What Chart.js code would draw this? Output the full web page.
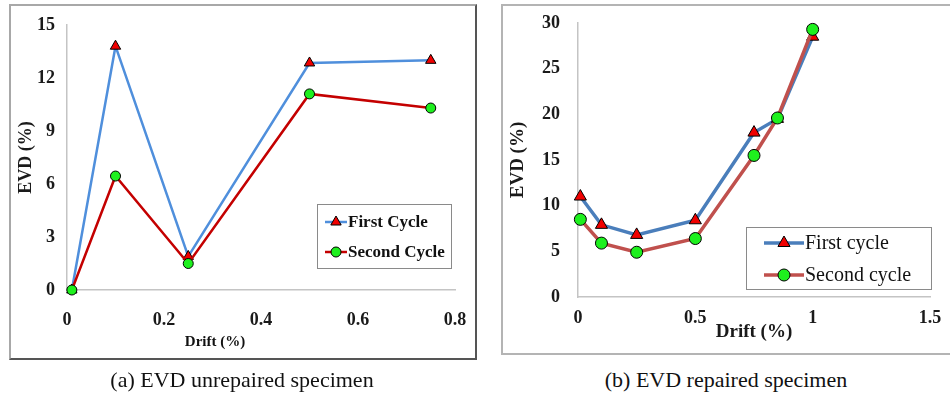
<!DOCTYPE html>
<html>
<head>
<meta charset="utf-8">
<script src="https://cdn.jsdelivr.net/npm/chart.js@4/dist/chart.umd.min.js"></script>
<style>
    body {
        margin: 0;
        width: 950px;
        height: 396px;
        background: #fff;
        position: relative;
        overflow: hidden;
        font-family: "Liberation Serif", "Times New Roman", serif;
        color: #111;
    }
    .panel { position: absolute; box-sizing: border-box; }
    #panelA {
        left: 9px; top: 4px; width: 468px; height: 356px;
        border: 2px solid #a8a8a8;
        border-right-color: #555;
        border-bottom-color: #555;
    }
    #panelB {
        left: 501px; top: 4px; width: 470px; height: 351px;
        border: 2px solid #b4b4b4;
    }
    canvas { position: absolute; }
    #chartA { left: 10px; top: 5px; }
    #chartB { left: 502px; top: 6px; }
    .label {
        position: absolute;
        white-space: nowrap;
        transform: translateX(-50%);
    }
    #driftA { left: 215px; top: 333px; font-weight: bold; font-size: 15px; }
    .caption { top: 367px; font-size: 22px; }
    #capA { left: 242px; }
    #capB { left: 726px; }
</style>
</head>
<body>
<div class="panel" id="panelA"></div>
<div class="panel" id="panelB"></div>
<canvas id="chartA" width="465" height="353"></canvas>
<canvas id="chartB" width="448" height="347"></canvas>
<div class="label" id="driftA">Drift (%)</div>
<div class="label caption" id="capA">(a) EVD unrepaired specimen</div>
<div class="label caption" id="capB">(b) EVD repaired specimen</div>

<script>
// (a) unrepaired specimen
const driftA = [0.01, 0.1, 0.25, 0.5, 0.75];
const firstA = [0, 13.8, 1.9, 12.85, 13.0];
const secondA = [0, 6.45, 1.5, 11.1, 10.3];
const xTicksA = [0, 0.2, 0.4, 0.6, 0.8];
const yTicksA = [0, 3, 6, 9, 12, 15];
const namesA = ['First Cycle', 'Second Cycle'];

// (b) repaired specimen
const driftB = [0.01, 0.1, 0.25, 0.5, 0.75, 0.85, 1];
const firstB = [11, 7.9, 6.8, 8.4, 18, 19.5, 28.5];
const secondB = [8.5, 5.9, 4.9, 6.4, 15.5, 19.6, 29.3];
const xTicksB = [0, 0.5, 1, 1.5];
const yTicksB = [0, 5, 10, 15, 20, 25, 30];
const namesB = ['First cycle', 'Second cycle'];

const serif = '"Liberation Serif", "Times New Roman", serif';

function points(xs, ys) {
    return xs.map((x, i) => ({ x: x, y: ys[i] }));
}

// legend drawn as a framed box inside the plot, like the Excel original
const boxLegend = {
    id: 'boxLegend',
    afterDraw(chart, args, opts) {
        const ctx = chart.ctx;
        ctx.save();
        ctx.strokeStyle = opts.borderColor;
        ctx.lineWidth = 1;
        ctx.strokeRect(opts.x + 0.5, opts.y + 0.5, opts.w, opts.h);
        ctx.font = opts.font;
        ctx.textBaseline = 'middle';
        chart.data.datasets.forEach((ds, i) => {
            const cy = opts.y + opts.rowTop + i * opts.rowGap;
            const x0 = opts.x + opts.lineX;
            ctx.strokeStyle = ds.borderColor;
            ctx.lineWidth = ds.borderWidth;
            ctx.beginPath();
            ctx.moveTo(x0, cy);
            ctx.lineTo(x0 + opts.lineLen, cy);
            ctx.stroke();
            ctx.fillStyle = ds.pointBackgroundColor;
            ctx.strokeStyle = ds.pointBorderColor;
            ctx.lineWidth = ds.pointBorderWidth;
            Chart.helpers.drawPoint(ctx, {
                pointStyle: ds.pointStyle, radius: ds.pointRadius,
                borderWidth: ds.pointBorderWidth, rotation: 0
            }, x0 + opts.lineLen / 2, cy);
            ctx.fillStyle = '#111';
            ctx.fillText(ds.label, x0 + opts.lineLen + 1, cy + 1);
        });
        ctx.restore();
    }
};

function fixTicks(list) {
    return scale => { scale.ticks = list.map(v => ({ value: v })); };
}

// fixed axis size, and no extra room asked for the end labels
function fixSize(prop, size) {
    return scale => {
        scale[prop] = size;
        scale.paddingTop = scale.paddingBottom = 0;
        scale.paddingLeft = scale.paddingRight = 0;
    };
}

function makeChart(id, cfg) {
    return new Chart(document.getElementById(id), {
        type: 'line',
        data: {
            datasets: [{
                label: cfg.names[0],
                data: points(cfg.xs, cfg.first),
                borderColor: cfg.blue,
                borderWidth: cfg.lineWidth,
                pointStyle: 'triangle',
                pointRadius: cfg.triRadius,
                pointBackgroundColor: '#f00000',
                pointBorderColor: '#000',
                pointBorderWidth: 1,
                tension: 0,
                clip: false,
                order: 2
            }, {
                label: cfg.names[1],
                data: points(cfg.xs, cfg.second),
                borderColor: cfg.red,
                borderWidth: cfg.lineWidth,
                pointStyle: 'circle',
                pointRadius: cfg.dotRadius,
                pointBackgroundColor: '#1ef01e',
                pointBorderColor: '#000',
                pointBorderWidth: 1,
                tension: 0,
                clip: false,
                order: 1
            }]
        },
        options: {
            responsive: false,
            animation: false,
            layout: { padding: cfg.padding },
            plugins: {
                legend: { display: false },
                tooltip: { enabled: false },
                boxLegend: cfg.legend
            },
            scales: {
                x: {
                    type: 'linear',
                    min: cfg.xTicks[0],
                    max: cfg.xTicks[cfg.xTicks.length - 1],
                    afterBuildTicks: fixTicks(cfg.xTicks),
                    afterFit: fixSize('height', cfg.xHeight),
                    grid: { display: false, drawTicks: false },
                    border: { display: true, color: '#c4c4c4', width: 1.5 },
                    ticks: {
                        padding: cfg.xPad,
                        color: '#1a1a1a',
                        maxRotation: 0,
                        callback: v => String(v),
                        font: { family: serif, size: cfg.tickSize, weight: 'bold' }
                    },
                    title: cfg.xTitle
                },
                y: {
                    min: cfg.yTicks[0],
                    max: cfg.yTicks[cfg.yTicks.length - 1],
                    afterBuildTicks: fixTicks(cfg.yTicks),
                    afterFit: fixSize('width', cfg.yWidth),
                    grid: { display: false, drawTicks: false },
                    border: { display: true, color: '#c4c4c4', width: 1.5 },
                    ticks: {
                        padding: cfg.yPad,
                        color: '#1a1a1a',
                        callback: v => String(v),
                        font: { family: serif, size: cfg.tickSize, weight: 'bold' }
                    },
                    title: cfg.yTitle
                }
            }
        },
        plugins: [boxLegend]
    });
}

makeChart('chartA', {
    xs: driftA, first: firstA, second: secondA, names: namesA,
    xTicks: xTicksA, yTicks: yTicksA,
    blue: '#4f8fdc', red: '#c40000', lineWidth: 2.5,
    triRadius: 6, dotRadius: 5,
    padding: { left: 0, top: 20, right: 20, bottom: 0 },
    xHeight: 68, yWidth: 57, xPad: 20, yPad: 12, tickSize: 18,
    xTitle: { display: false },
    yTitle: {
        display: true, text: 'EVD (%)', color: '#1a1a1a',
        font: { family: serif, size: 18, weight: 'bold' },
        padding: { top: 6, bottom: 0 }
    },
    legend: {
        x: 307, y: 199, w: 134, h: 64, rowTop: 18, rowGap: 30,
        lineX: 8, lineLen: 22, borderColor: '#8a8a8a',
        font: 'bold 17px ' + serif
    }
});

makeChart('chartB', {
    xs: driftB, first: firstB, second: secondB, names: namesB,
    xTicks: xTicksB, yTicks: yTicksB,
    blue: '#4a7ebb', red: '#c0504d', lineWidth: 3.5,
    triRadius: 7, dotRadius: 6,
    padding: { left: 0, top: 17, right: 20, bottom: 0 },
    xHeight: 56, yWidth: 76, xPad: 11, yPad: 18, tickSize: 18,
    xTitle: {
        display: true, text: 'Drift (%)', color: '#1a1a1a',
        font: { family: serif, size: 19, weight: 'bold' },
        padding: { top: 0, bottom: 10 }
    },
    yTitle: {
        display: true, text: 'EVD (%)', color: '#1a1a1a',
        font: { family: serif, size: 19, weight: 'bold' },
        padding: { top: 5, bottom: 0 }
    },
    legend: {
        x: 244, y: 221, w: 185, h: 62, rowTop: 16, rowGap: 32,
        lineX: 18, lineLen: 40, borderColor: '#8a8a8a',
        font: '20px ' + serif
    }
});
</script>
</body>
</html>
